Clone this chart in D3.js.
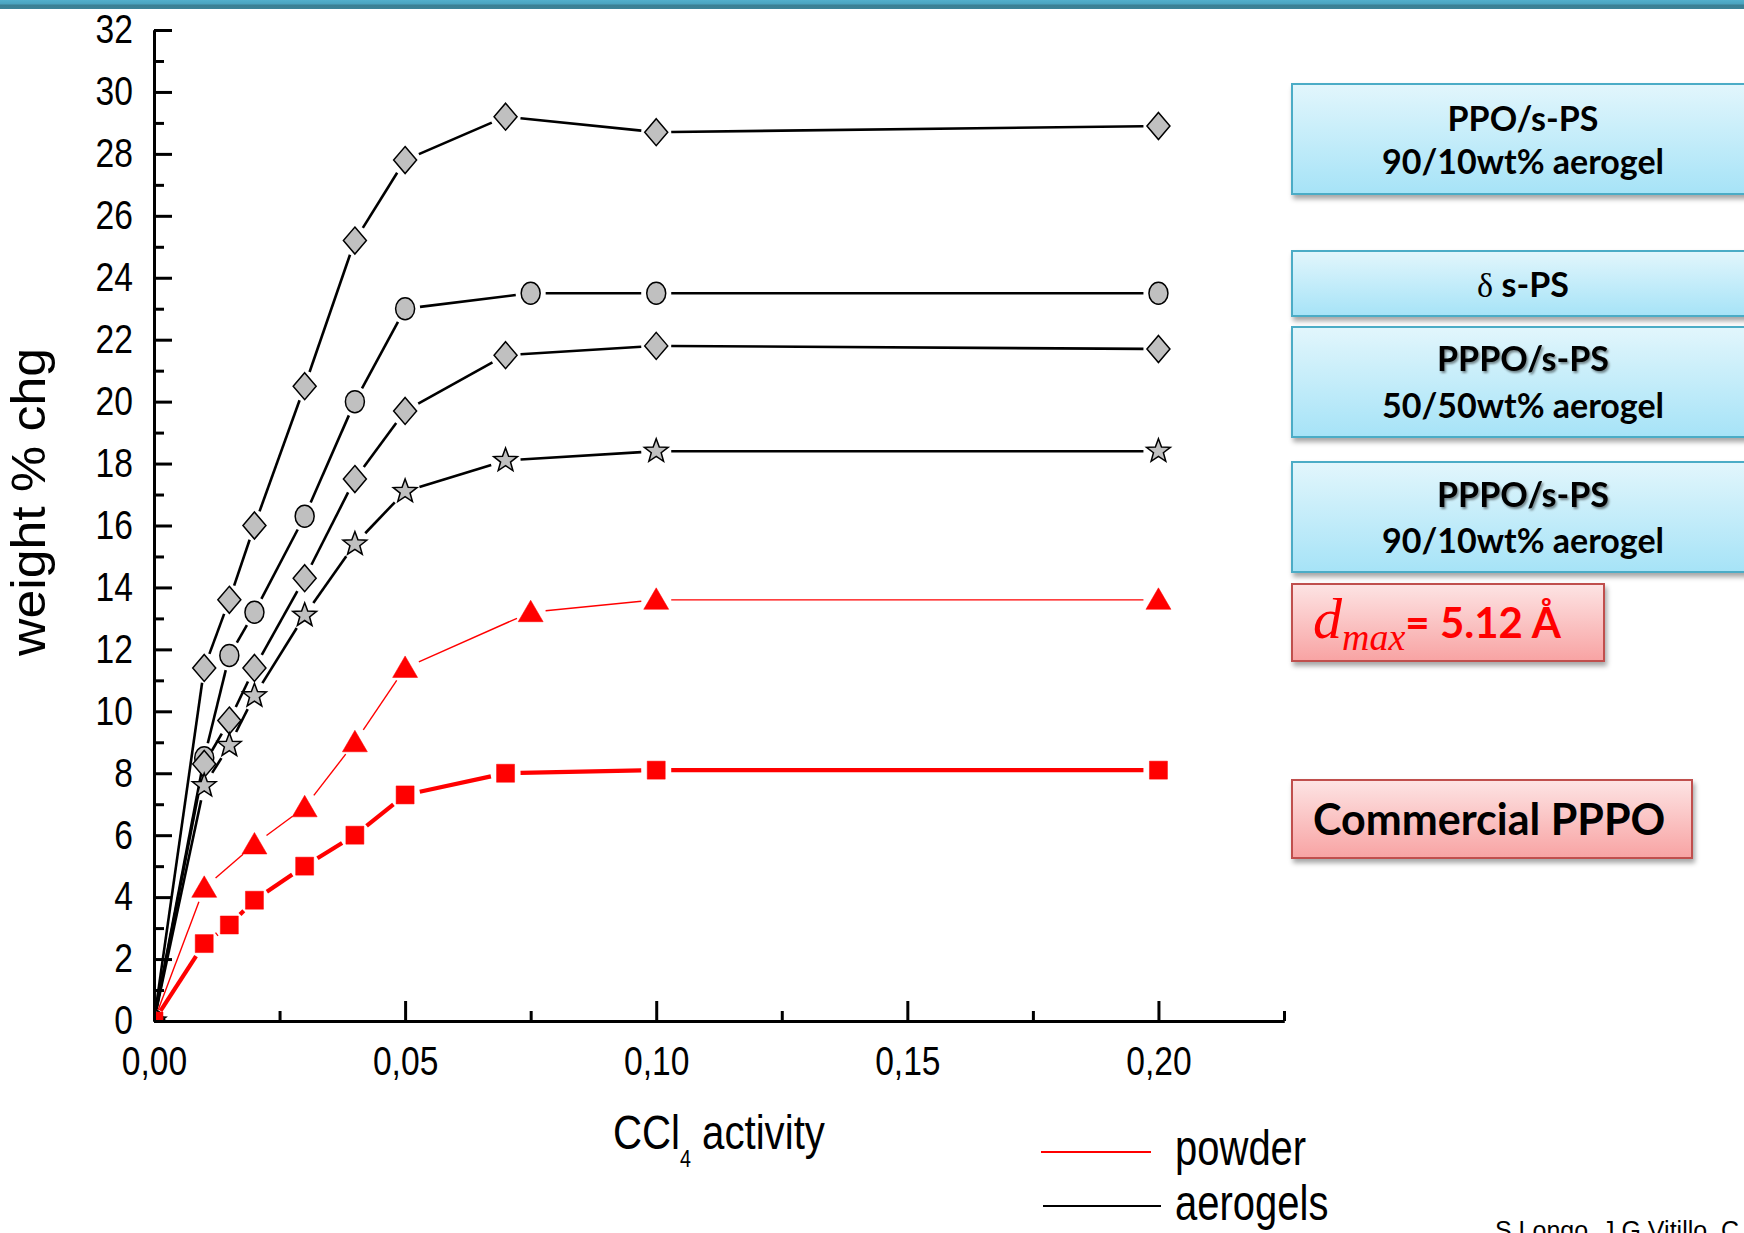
<!DOCTYPE html>
<html lang="en">
<head>
    <meta charset="UTF-8">
    <title>CCl4 sorption</title>
    <style>
        body, html {
            margin: 0;
            padding: 0;
            width: 100%;
            height: 100%;
            overflow: hidden;
            background: #fff;
        }
        svg text {
            font-family: "Liberation Sans", Arial, sans-serif;
        }
        .box-text {
            font-family: Lato, "Open Sans", sans-serif !important;
            font-weight: bold;
        }
    </style>
    <script src="https://d3js.org/d3.v7.min.js"></script>
</head>
<body>
    <div id="chart"></div>

    <script>
        // data (x = CCl4 activity, y = weight % change)
        const xPPO9010 = [0, 0.01, 0.015, 0.02, 0.03, 0.04, 0.05, 0.07, 0.10, 0.20];
        const yPPO9010 = [0, 11.4, 13.6, 16.0, 20.5, 25.2, 27.8, 29.2, 28.7, 28.9];

        const xDeltaSPS = [0, 0.01, 0.015, 0.02, 0.03, 0.04, 0.05, 0.075, 0.10, 0.20];
        const yDeltaSPS = [0, 8.5, 11.8, 13.2, 16.3, 20.0, 23.0, 23.5, 23.5, 23.5];

        const xPPPO5050 = [0, 0.01, 0.015, 0.02, 0.03, 0.04, 0.05, 0.07, 0.10, 0.20];
        const yPPPO5050 = [0, 8.3, 9.7, 11.4, 14.3, 17.5, 19.7, 21.5, 21.8, 21.7];

        const xPPPO9010 = [0, 0.01, 0.015, 0.02, 0.03, 0.04, 0.05, 0.07, 0.10, 0.20];
        const yPPPO9010 = [0, 7.6, 8.9, 10.5, 13.1, 15.4, 17.1, 18.1, 18.4, 18.4];

        const xPowderTri = [0, 0.01, 0.02, 0.03, 0.04, 0.05, 0.075, 0.10, 0.20];
        const yPowderTri = [0, 4.3, 5.7, 6.9, 9.0, 11.4, 13.2, 13.6, 13.6];

        const xPowderSq = [0, 0.01, 0.015, 0.02, 0.03, 0.04, 0.05, 0.07, 0.10, 0.20];
        const yPowderSq = [0, 2.5, 3.1, 3.9, 5.0, 6.0, 7.3, 8.0, 8.1, 8.1];

        const xTicks = [0, 0.05, 0.10, 0.15, 0.20];
        const yTicks = d3.range(0, 33, 2);

        const series = [
            { xs: xPPO9010, ys: yPPO9010, symbol: "diamond", color: "#000", width: 2.6 },
            { xs: xDeltaSPS, ys: yDeltaSPS, symbol: "circle", color: "#000", width: 2.6 },
            { xs: xPPPO5050, ys: yPPPO5050, symbol: "diamond", color: "#000", width: 2.6 },
            { xs: xPPPO9010, ys: yPPPO9010, symbol: "star", color: "#000", width: 2.6 },
            { xs: xPowderTri, ys: yPowderTri, symbol: "triangle", color: "#ff0000", width: 1.4 },
            { xs: xPowderSq, ys: yPowderSq, symbol: "square", color: "#ff0000", width: 4.2 }
        ];

        const width = 1744;
        const height = 1233;

        const svg = d3.select("#chart")
            .append("svg")
            .attr("width", width)
            .attr("height", height);

        const defs = svg.append("defs");

        // top banner gradient
        const bar = defs.append("linearGradient").attr("id", "bar").attr("x1", 0).attr("x2", 0).attr("y1", 0).attr("y2", 1);
        bar.append("stop").attr("offset", "0%").attr("stop-color", "#52afcc");
        bar.append("stop").attr("offset", "45%").attr("stop-color", "#4aa3bf");
        bar.append("stop").attr("offset", "55%").attr("stop-color", "#3b7f93");
        bar.append("stop").attr("offset", "100%").attr("stop-color", "#3d8398");

        const blue = defs.append("linearGradient").attr("id", "blue").attr("x1", 0).attr("x2", 0).attr("y1", 0).attr("y2", 1);
        blue.append("stop").attr("offset", "0%").attr("stop-color", "#e2f6fc");
        blue.append("stop").attr("offset", "100%").attr("stop-color", "#a6e3f7");

        const red = defs.append("linearGradient").attr("id", "red").attr("x1", 0).attr("x2", 0).attr("y1", 0).attr("y2", 1);
        red.append("stop").attr("offset", "0%").attr("stop-color", "#fde4e4");
        red.append("stop").attr("offset", "100%").attr("stop-color", "#f8a3a3");

        const shadow = defs.append("filter").attr("id", "shadow").attr("x", "-10%").attr("y", "-20%").attr("width", "130%").attr("height", "150%");
        shadow.append("feDropShadow").attr("dx", 2).attr("dy", 4).attr("stdDeviation", 2.5)
            .attr("flood-color", "#000").attr("flood-opacity", 0.35);

        const textShadow = defs.append("filter").attr("id", "tshadow").attr("x", "-5%").attr("y", "-20%").attr("width", "115%").attr("height", "150%");
        textShadow.append("feDropShadow").attr("dx", 1.5).attr("dy", 2).attr("stdDeviation", 1.2)
            .attr("flood-color", "#000").attr("flood-opacity", 0.45);

        svg.append("rect").attr("x", 0).attr("y", 0).attr("width", width).attr("height", 9).attr("fill", "url(#bar)");

        // plot area
        const x = d3.scaleLinear().domain([0, 0.225]).range([154, 1284]);
        const y = d3.scaleLinear().domain([0, 32]).range([1021, 30]);

        defs.append("clipPath").attr("id", "plot")
            .append("rect")
            .attr("x", x(0)).attr("y", y(32) - 15)
            .attr("width", x(0.225) - x(0)).attr("height", y(0) - y(32) + 15);

        const squeeze = (sel, k) => sel.each(function () {
            const len = this.getComputedTextLength();
            d3.select(this).attr("textLength", len * k).attr("lengthAdjust", "spacingAndGlyphs");
        });

        // lines, shortened at both ends to leave a gap round each symbol
        const gap = 15;
        const lines = svg.append("g").attr("clip-path", "url(#plot)");
        series.forEach(s => {
            const pts = s.xs.map((d, i) => [x(d), y(s.ys[i])]);
            for (let i = 0; i < pts.length - 1; i++) {
                const [x0, y0] = pts[i];
                const [x1, y1] = pts[i + 1];
                const len = Math.hypot(x1 - x0, y1 - y0);
                const g0 = i === 0 ? 12 : gap;
                if (len <= g0 + gap) continue;
                const ux = (x1 - x0) / len, uy = (y1 - y0) / len;
                lines.append("line")
                    .attr("x1", x0 + ux * g0).attr("y1", y0 + uy * g0)
                    .attr("x2", x1 - ux * gap).attr("y2", y1 - uy * gap)
                    .attr("stroke", s.color)
                    .attr("stroke-width", s.width);
            }
        });

        const starPath = () => {
            const p = [];
            for (let i = 0; i < 10; i++) {
                const r = i % 2 === 0 ? 12.5 : 5.2;
                const a = -Math.PI / 2 + i * Math.PI / 5;
                p.push([r * Math.cos(a), r * Math.sin(a)]);
            }
            return "M" + p.map(d => d.join(",")).join("L") + "Z";
        };

        const symbols = {
            diamond: "M0,-13.5L11.5,0L0,13.5L-11.5,0Z",
            triangle: "M0,-12L12.5,9.5L-12.5,9.5Z",
            square: "M-9,-9L9,-9L9,9L-9,9Z",
            star: starPath()
        };

        const marks = svg.append("g").attr("clip-path", "url(#plot)");
        series.forEach(s => {
            const grp = marks.selectAll(null)
                .data(s.xs.map((d, i) => ({ x: d, y: s.ys[i] })))
                .enter().append("g")
                .attr("transform", d => `translate(${x(d.x)},${y(d.y)})`);
            const isRed = s.color !== "#000";
            if (s.symbol === "circle") {
                grp.append("ellipse").attr("rx", 9.5).attr("ry", 11)
                    .attr("fill", "#c0c0c0").attr("stroke", "#000").attr("stroke-width", 1.5);
            } else {
                grp.append("path").attr("d", symbols[s.symbol])
                    .attr("fill", isRed ? "#ff0000" : "#c0c0c0")
                    .attr("stroke", isRed ? "#ff0000" : "#000")
                    .attr("stroke-width", isRed ? 0.5 : 1.5)
                    .attr("stroke-linejoin", "miter");
            }
        });

        // axes
        const fmt = d => d3.format(".2f")(d).replace(".", ",");

        const xMinor = svg.append("g").attr("transform", `translate(0,${y(0)})`)
            .call(d3.axisBottom(x).tickValues(d3.range(1, 10, 2).map(i => i * 0.025)).tickSize(-10).tickSizeOuter(0).tickFormat(""));
        const xAxis = svg.append("g").attr("transform", `translate(0,${y(0)})`)
            .call(d3.axisBottom(x).tickValues(xTicks).tickSize(-20).tickSizeOuter(0).tickPadding(26).tickFormat(fmt));

        const yMinor = svg.append("g").attr("transform", `translate(${x(0)},0)`)
            .call(d3.axisLeft(y).tickValues(d3.range(1, 32, 2)).tickSize(-10).tickSizeOuter(0).tickFormat(""));
        const yAxis = svg.append("g").attr("transform", `translate(${x(0)},0)`)
            .call(d3.axisLeft(y).tickValues(yTicks).tickSize(-18).tickSizeOuter(0).tickPadding(21));

        [xMinor, xAxis, yMinor, yAxis].forEach(a => {
            a.selectAll(".tick line").attr("stroke", "#000").attr("stroke-width", 3);
            a.select(".domain").attr("stroke", "#000").attr("stroke-width", 3);
        });
        [xAxis, yAxis].forEach(a => {
            a.selectAll(".tick text")
                .attr("fill", "#000")
                .style("font-size", "40px")
                .call(squeeze, 0.84);
        });

        // axis titles
        const xTitle = svg.append("text")
            .attr("x", 613).attr("y", 1149)
            .style("font-size", "49px");
        xTitle.append("tspan").text("CCl");
        xTitle.append("tspan").attr("dy", 18).style("font-size", "24px").text("4");
        xTitle.append("tspan").attr("dy", -18).text(" activity");
        xTitle.call(squeeze, 0.82);

        svg.append("text")
            .attr("transform", "translate(45,502) rotate(-90)")
            .attr("text-anchor", "middle")
            .style("font-size", "48px")
            .text("weight % chg")
            .attr("textLength", 308)
            .attr("lengthAdjust", "spacingAndGlyphs");

        // powder / aerogels key
        const keyItems = [
            { label: "powder", color: "#ff0000", y: 1152, x1: 1041, x2: 1151, ty: 1165 },
            { label: "aerogels", color: "#000", y: 1206, x1: 1043, x2: 1161, ty: 1220 }
        ];
        keyItems.forEach(k => {
            svg.append("line").attr("x1", k.x1).attr("x2", k.x2).attr("y1", k.y).attr("y2", k.y)
                .attr("stroke", k.color).attr("stroke-width", 2);
            svg.append("text").attr("x", 1175).attr("y", k.ty)
                .style("font-size", "50px").text(k.label).call(squeeze, 0.8);
        });

        svg.append("text").attr("x", 1495).attr("y", 1239)
            .style("font-size", "25px").text("S Longo, J.G.Vitillo, C");

        // labelled boxes
        const blueBoxes = [
            { y: 84, h: 110, lines: ["PPO/s-PS", "90/10wt% aerogel"], ty: [131, 174], shade: [false, false] },
            { y: 251, h: 65, lines: ["s-PS"], ty: [297], shade: [false], delta: true },
            { y: 327, h: 110, lines: ["PPPO/s-PS", "50/50wt% aerogel"], ty: [371, 418], shade: [true, false] },
            { y: 462, h: 110, lines: ["PPPO/s-PS", "90/10wt% aerogel"], ty: [507, 553], shade: [true, false] }
        ];
        blueBoxes.forEach(b => {
            svg.append("rect").attr("x", 1292).attr("y", b.y).attr("width", 470).attr("height", b.h)
                .attr("fill", "url(#blue)").attr("stroke", "#4bacc6").attr("stroke-width", 2)
                .attr("filter", "url(#shadow)");
            b.lines.forEach((t, i) => {
                const txt = svg.append("text").attr("class", "box-text")
                    .attr("x", 1523).attr("y", b.ty[i])
                    .attr("text-anchor", "middle")
                    .style("font-size", "34px");
                if (b.delta) {
                    txt.append("tspan").style("font-weight", "normal").style("font-family", "\"Liberation Serif\", serif").text("δ ");
                }
                txt.append("tspan").text(t);
                if (b.shade[i]) txt.attr("filter", "url(#tshadow)");
            });
        });

        svg.append("rect").attr("x", 1292).attr("y", 584).attr("width", 312).attr("height", 77)
            .attr("fill", "url(#red)").attr("stroke", "#c0504d").attr("stroke-width", 2)
            .attr("filter", "url(#shadow)");
        const dmax = svg.append("text").attr("x", 1313).attr("y", 638).attr("fill", "#ff0000");
        dmax.append("tspan").style("font-family", "\"Liberation Serif\", serif").style("font-style", "italic")
            .style("font-size", "58px").text("d");
        dmax.append("tspan").attr("dy", 12).style("font-family", "\"Liberation Serif\", serif").style("font-style", "italic")
            .style("font-size", "38px").text("max");
        dmax.append("tspan").attr("dy", -12).attr("class", "box-text").style("font-family", "Lato, sans-serif")
            .style("font-weight", "bold").style("font-size", "42px").text("= 5.12 Å");

        svg.append("rect").attr("x", 1292).attr("y", 780).attr("width", 400).attr("height", 78)
            .attr("fill", "url(#red)").attr("stroke", "#c0504d").attr("stroke-width", 2)
            .attr("filter", "url(#shadow)");
        svg.append("text").attr("class", "box-text").attr("x", 1313).attr("y", 835)
            .style("font-size", "43px").text("Commercial PPPO");
    </script>
</body>
</html>
